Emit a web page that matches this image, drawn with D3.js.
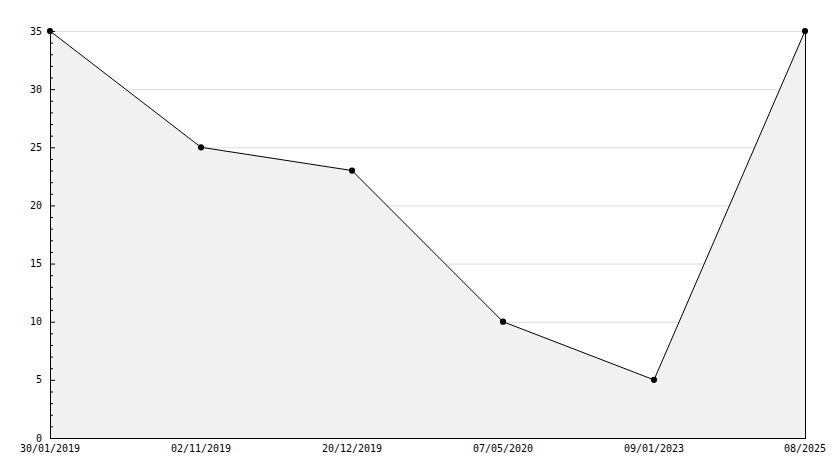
<!DOCTYPE html>
<html><head><meta charset="utf-8">
<script src="https://cdn.jsdelivr.net/npm/d3@7"></script>
<style>body{margin:0;background:#fff}svg{display:block}text{font-family:"DejaVu Sans Mono",monospace;font-size:10px;fill:#000}</style>
</head><body><svg id="c" width="834" height="468"></svg>
<script>
const categories = ["30/01/2019","02/11/2019","20/12/2019","07/05/2020","09/01/2023","08/2025"];
const values = [35, 25, 23, 10, 5, 35];
const yTicks = [0,5,10,15,20,25,30,35];

const svg = d3.select("#c");
const L = 50, R = 805, T = 31, B = 438;
const x = d3.scalePoint().domain(categories).range([L, R]);
const y = d3.scaleLinear().domain([0, 35]).range([B, T]);

// grid
svg.append("g").selectAll("line").data(yTicks).join("line")
  .attr("x1", L).attr("x2", R).attr("y1", d => y(d) + 0.5).attr("y2", d => y(d) + 0.5)
  .attr("stroke", "#dcdcdc").attr("stroke-width", 1);

// area
const area = d3.area().x((d,i) => x(categories[i])).y0(B).y1(d => y(d));
svg.append("path").datum(values).attr("d", area).attr("fill", "#f1f1f1");

// line
const line = d3.line().x((d,i) => x(categories[i])).y(d => y(d));
svg.append("path").datum(values).attr("d", line).attr("fill", "none").attr("stroke", "#000").attr("stroke-width", 1);

// right edge
svg.append("line").attr("x1", x(categories[categories.length-1]) + 0.5).attr("x2", x(categories[categories.length-1]) + 0.5)
  .attr("y1", y(values[values.length-1])).attr("y2", B).attr("stroke", "#000");

// y axis
const minor = d3.range(0, 36, 1);
svg.append("g").selectAll("line").data(minor).join("line")
  .attr("x1", L).attr("x2", d => d % 5 === 0 ? L + 5 : L + 3)
  .attr("y1", d => y(d) + 0.5).attr("y2", d => y(d) + 0.5).attr("stroke", "#000");
svg.append("line").attr("x1", L + 0.5).attr("x2", L + 0.5).attr("y1", T).attr("y2", B + 1).attr("stroke", "#000");
svg.append("line").attr("x1", L).attr("x2", R + 1).attr("y1", B + 0.5).attr("y2", B + 0.5).attr("stroke", "#000");

svg.append("g").selectAll("text").data(yTicks).join("text")
  .attr("x", 42).attr("y", d => y(d)).attr("dy", "0.35em").attr("text-anchor", "end").text(d => d);

svg.append("g").selectAll("text").data(categories).join("text")
  .attr("x", d => x(d)).attr("y", 452).attr("text-anchor", "middle").text(d => d);

// markers
svg.append("g").selectAll("path").data(values).join("path")
  .attr("transform", (d,i) => `translate(${x(categories[i])},${y(d)})`)
  .attr("d", d3.symbol(d3.symbolCircle, 30)).attr("fill", "#000");
</script></body></html>
